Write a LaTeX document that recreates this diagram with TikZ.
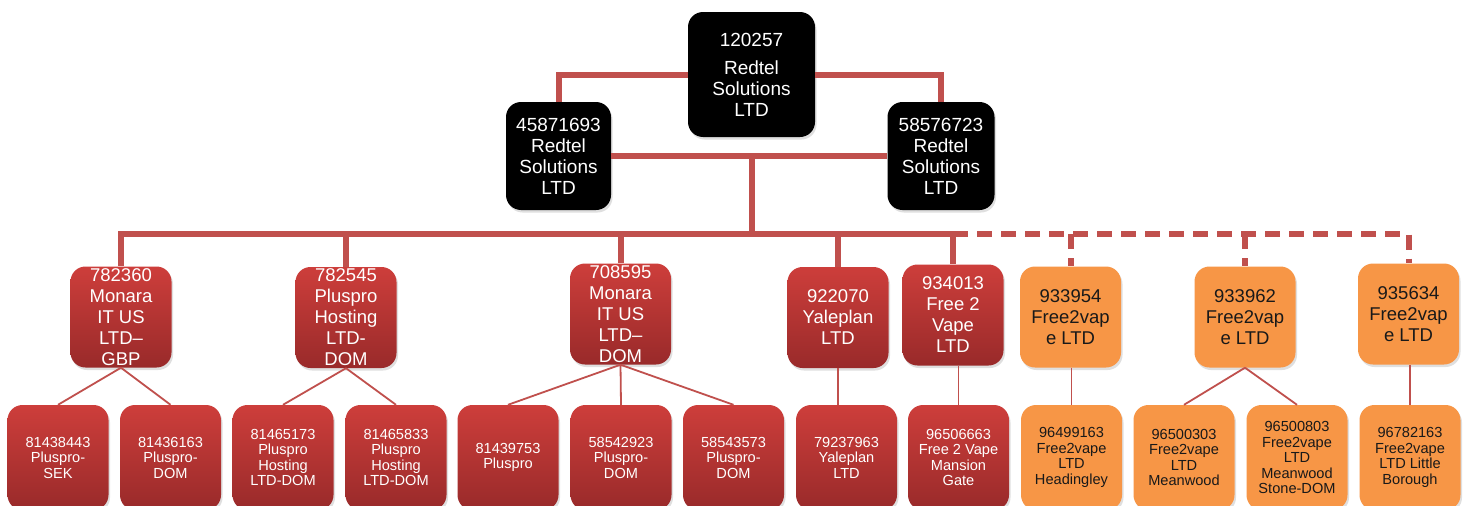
\documentclass[tikz,border=0pt]{standalone}
\usepackage{fontspec}
\setmainfont{Liberation Sans}
\usetikzlibrary{shadows}
\definecolor{linered}{HTML}{C0504D}
\definecolor{redtop}{HTML}{CD3E3B}
\definecolor{redbot}{HTML}{992A2A}
\definecolor{orangefill}{HTML}{F79646}
\begin{document}
\begin{tikzpicture}[x=1pt,y=-1pt,
  box/.style={rounded corners=15pt, inner sep=0pt, align=center,
    drop shadow={opacity=0.25, shadow xshift=1.5pt, shadow yshift=-2.5pt}},
  blackbox/.style={box, fill=black, text=white, font=\fontsize{19}{21}\selectfont},
  redbox/.style={box, top color=redtop, bottom color=redbot, text=white,
    minimum width=101pt, minimum height=101pt, font=\fontsize{18.5}{21}\selectfont},
  orangebox/.style={box, fill=orangefill, text=black!90,
    minimum width=101pt, minimum height=101pt, font=\fontsize{18.5}{21}\selectfont},
  redleaf/.style={redbox, minimum height=105pt, font=\fontsize{14.6}{15.5}\selectfont},
  orangeleaf/.style={orangebox, minimum height=105pt, font=\fontsize{14.6}{15.5}\selectfont},
  busline/.style={draw=linered, line width=6pt},
  dashbus/.style={busline, dash pattern=on 15pt off 9pt},
  thinline/.style={draw=linered, line width=1.8pt}]
\useasboundingbox[fill=white] (0,0) rectangle (1468,506);
% top level
\node[blackbox, minimum width=127pt, minimum height=125pt] (top) at (751.5,74.5) {120257\\[7pt]Redtel\\Solutions\\LTD};
\node[blackbox, minimum width=105pt, minimum height=108pt] (lb) at (558.5,156) {45871693\\Redtel\\Solutions\\LTD};
\node[blackbox, minimum width=107pt, minimum height=108pt] (rb) at (941,156) {58576723\\Redtel\\Solutions\\LTD};
% middle row
\node[redbox] (m1) at (121,317) {782360\\Monara\\IT US\\LTD–\\GBP};
\node[redbox] (m2) at (346,317.5) {782545\\Pluspro\\Hosting\\LTD-\\DOM};
\node[redbox] (m3) at (620.5,314) {708595\\Monara\\IT US\\LTD–\\DOM};
\node[redbox] (m4) at (838,317.5) {922070\\Yaleplan\\LTD};
\node[redbox] (m5) at (953,315) {934013\\Free 2\\Vape\\LTD};
\node[orangebox] (o1) at (1070.5,317) {933954\\Free2vap\\e LTD};
\node[orangebox] (o2) at (1245,317) {933962\\Free2vap\\e LTD};
\node[orangebox] (o3) at (1408.5,314) {935634\\Free2vap\\e LTD};
% bottom row
\node[redleaf] (c1) at (58,457.5) {81438443\\Pluspro-\\SEK};
\node[redleaf] (c2) at (170.5,457.5) {81436163\\Pluspro-\\DOM};
\node[redleaf] (c3) at (283,457.5) {81465173\\Pluspro\\Hosting\\LTD-DOM};
\node[redleaf] (c4) at (396,457.5) {81465833\\Pluspro\\Hosting\\LTD-DOM};
\node[redleaf] (c5) at (508,457.5) {81439753\\Pluspro};
\node[redleaf] (c6) at (621,457.5) {58542923\\Pluspro-\\DOM};
\node[redleaf] (c7) at (733.5,457.5) {58543573\\Pluspro-\\DOM};
\node[redleaf] (c8) at (846.5,457.5) {79237963\\Yaleplan\\LTD};
\node[redleaf] (c9) at (958.5,457.5) {96506663\\Free 2 Vape\\Mansion\\Gate};
\node[orangeleaf] (c10) at (1071.5,457.5) {96499163\\Free2vape\\LTD\\Headingley};
\node[orangeleaf] (c11) at (1184,457.5) {96500303\\Free2vape\\LTD\\Meanwood};
\node[orangeleaf] (c12) at (1297,457.5) {96500803\\Free2vape\\LTD\\Meanwood\\Stone-DOM};
\node[orangeleaf] (c13) at (1410,457.5) {96782163\\Free2vape\\LTD Little\\Borough};
% junctions
\coordinate (j) at (752,156);
\coordinate (bus) at (752,234);
% upper connectors
\draw[busline] (top.west) -| (lb.north);
\draw[busline] (top.east) -| (rb.north);
\draw[busline] (lb.east) -- (rb.west);
\draw[busline] (j) -- (bus);
\draw[busline] (bus) -| (m1.north);
\draw[busline] (bus) -| (m2.north);
\draw[busline] (bus) -| (m3.north);
\draw[busline] (bus) -| (m4.north);
\draw[busline] (bus) -| (m5.north);
\draw[dashbus] (m5.north |- bus) -| (o3.north);
\draw[dashbus] (o1.north |- bus) -- (o1.north);
\draw[dashbus] (o2.north |- bus) -- (o2.north);
% lower connectors
\draw[thinline] (m1.south) -- (c1.north);
\draw[thinline] (m1.south) -- (c2.north);
\draw[thinline] (m2.south) -- (c3.north);
\draw[thinline] (m2.south) -- (c4.north);
\draw[thinline] (m3.south) -- (c5.north);
\draw[thinline] (m3.south) -- (c6.north);
\draw[thinline] (m3.south) -- (c7.north);
\draw[thinline] (m4.south) -- (m4.south |- c8.north);
\draw[thinline] (c9.north |- m5.south) -- (c9.north);
\draw[thinline] (c10.north |- o1.south) -- (c10.north);
\draw[thinline] (o2.south) -- (c11.north);
\draw[thinline] (o2.south) -- (c12.north);
\draw[thinline] (c13.north |- o3.south) -- (c13.north);
\end{tikzpicture}
\end{document}
